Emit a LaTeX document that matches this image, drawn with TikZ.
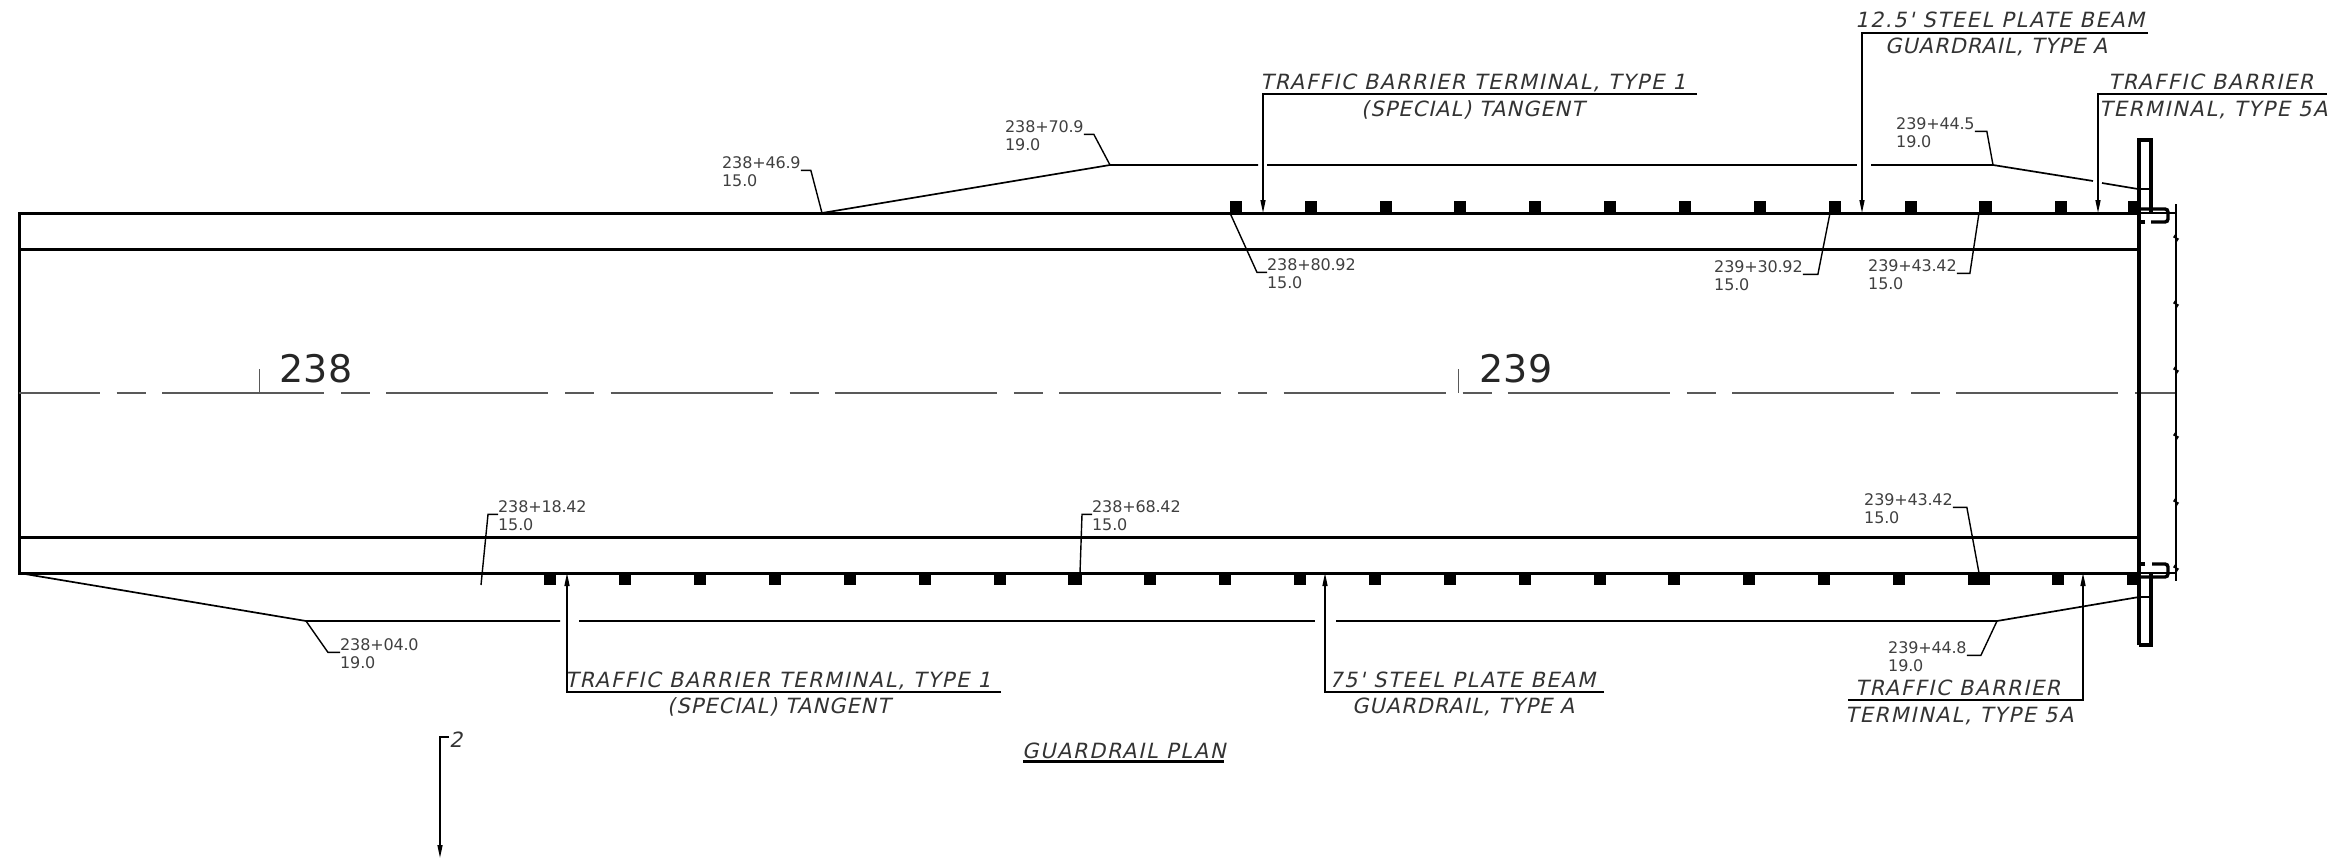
\documentclass[tikz,border=0pt]{standalone}
\usepackage{fontspec}
\setmainfont{DejaVu Sans}
\newfontfamily\notefont[FakeSlant=0.22,LetterSpace=7.5]{DejaVu Sans}
\newfontfamily\tightfont[FakeSlant=0.22,LetterSpace=4.5]{DejaVu Sans}
\newfontfamily\stafont[LetterSpace=-1]{DejaVu Sans}
\newfontfamily\stnfont[LetterSpace=1.5]{DejaVu Sans}
\usetikzlibrary{arrows.meta}

\begin{document}
\begin{tikzpicture}[x=1pt,y=-1pt,>={Stealth[length=13pt,width=5pt,inset=0pt]},
    road/.style={line width=3pt}, thin line/.style={line width=1.7pt},
    lead/.style={line width=1.4pt}, term/.style={line width=4.4pt},
    note/.style={anchor=base west,inner sep=0pt,font=\notefont\fontsize{21pt}{21pt}\selectfont,text=black!80},
    tight/.style={note,font=\tightfont\fontsize{21pt}{21pt}\selectfont},
    sta/.style={anchor=base west,inner xsep=0pt,inner ysep=2pt,font=\stafont\fontsize{16pt}{16pt}\selectfont,text=black!75},
    station/.style={anchor=base west,inner sep=0pt,font=\stnfont\fontsize{38pt}{38pt}\selectfont,text=black!85}]
  \useasboundingbox (0,0) rectangle (2351,867);
  % roadway edges
  \draw[road] (2139,213) -- (19,213) -- (19,573) -- (2139,573);
  \draw[road] (19,249) -- (2139,249);
  \draw[road] (19,537) -- (2139,537);
  % centre line and stations
  \draw[line width=1.2pt,black!65,dash pattern=on 162pt off 17pt on 29pt off 16.3pt,dash phase=81.3pt] (19,393) -- (2118,393);
  \draw[line width=1.2pt,black!65] (2135,393) -- (2176,393);
  \draw[line width=1pt,black!65] (259,369) -- (259,393);
  \draw[line width=1pt,black!65] (1458,369) -- (1458,393);
  \node[station] (N238) at (279,382) {238};
  \node[station] (N239) at (1479,382) {239};
  % posts
  \foreach \x in {1236,1311,1386,1460,1535,1610,1685,1760,1835,1911,2061,2134}
    \fill (\x-6,201) rectangle (\x+6,213);
  \fill (1979,201) rectangle (1992,213);
  \foreach \x in {550,625,700,775,850,925,1000,1150,1225,1300,1375,1450,1525,1600,1674,1749,1824,1899,2058,2133}
    \fill (\x-6,573) rectangle (\x+6,585);
  \fill (1068,573) rectangle (1082,585);
  \fill (1968,573) rectangle (1990,585);
  % guardrail offset lines
  \draw[thin line] (822,213) -- (1110,165) -- (1258,165);
  \draw[thin line] (1267,165) -- (1857,165);
  \draw[thin line] (1871,165) -- (1993,165) -- (2093,181);
  \draw[thin line] (2102,183) -- (2138,189);
  \draw[thin line] (19,573) -- (306,621) -- (560,621);
  \draw[thin line] (579,621) -- (1315,621);
  \draw[thin line] (1336,621) -- (1997,621) -- (2139,597);
  % end treatment
  \draw[term] (2139,645) -- (2139,140) -- (2151,140) -- (2151,213);
  \draw[term] (2139,645) -- (2151,645) -- (2151,573);
  \draw[line width=2.6pt] (2139,189) -- (2151,189);
  \draw[line width=2.6pt] (2139,597) -- (2151,597);
  \draw[line width=3.4pt,rounded corners=3pt] (2139,209) -- (2168,209) -- (2168,222) -- (2151,222);
  \draw[line width=3.4pt] (2145,222) -- (2139,222);
  \draw[line width=3.4pt,rounded corners=3pt] (2152,564) -- (2168,564) -- (2168,577) -- (2139,577);
  \draw[line width=3.4pt] (2145,564) -- (2139,564);
  \draw[thin line] (2139,213) -- (2176,213);
  \draw[thin line] (2139,573) -- (2176,573);
  \draw[thin line] (2176,204) -- (2176,581);
  \foreach \y in {238,304,370,436,502,568}
    \draw[lead] (2176,\y-4) -- (2174,\y-1) -- (2178,\y+1) -- (2176,\y+4);
  % station labels with leaders
  \foreach \nm/\x/\y/\ta/\tb in {a/722/168/238+46.9/15.0, b/1005/132/238+70.9/19.0,
      c/1896/129/239+44.5/19.0, d/1267/270/238+80.92/15.0, e/1714/272/239+30.92/15.0,
      f/1868/271/239+43.42/15.0, g/498/512/238+18.42/15.0, h/1092/512/238+68.42/15.0,
      i/1864/505/239+43.42/15.0, j/340/650/238+04.0/19.0, k/1888/653/239+44.8/19.0} {
    \node[sta] (\nm) at (\x,\y) {\ta};
    \node[sta] (\nm2) at (\x,\y+18) {\tb};
  }
  \coordinate (ta) at (822,213);
  \coordinate (tb) at (1110,165);
  \coordinate (tc) at (1993,165);
  \coordinate (td) at (1230,213);
  \coordinate (te) at (1830,213);
  \coordinate (tf) at (1979,213);
  \coordinate (tg) at (481,585);
  \coordinate (th) at (1080,573);
  \coordinate (ti) at (1979,573);
  \coordinate (tj) at (306,621);
  \coordinate (tk) at (1997,621);
  \draw[lead] (a.south east) -- ++(10,0) -- (ta);
  \draw[lead] (b.south east) -- ++(10,0) -- (tb);
  \draw[lead] (c.south east) -- ++(12,0) -- (tc);
  \draw[lead] (d.south west) -- ++(-10,0) -- (td);
  \draw[lead] (e.south east) -- ++(15,0) -- (te);
  \draw[lead] (f.south east) -- ++(13,0) -- (tf);
  \draw[lead] (g.south west) -- ++(-10,0) -- (tg);
  \draw[lead] (h.south west) -- ++(-10,0) -- (th);
  \draw[lead] (i.south east) -- ++(14,0) -- (ti);
  \draw[lead] (j.south west) -- ++(-12,0) -- (tj);
  \draw[lead] (k.south east) -- ++(14,0) -- (tk);
  % callouts
  \node[note] (n1) at (1855,28) {12.5' STEEL PLATE BEAM};
  \node[tight] (n1b) at (1885,54) {GUARDRAIL, TYPE A};
  \coordinate (u1) at (2148,33);
  \coordinate (v1) at (1862,213);
  \draw[lead,->] (u1) -| (v1);
  \node[note] (n2) at (2108,89) {TRAFFIC BARRIER};
  \node[note] (n2b) at (2099,116) {TERMINAL, TYPE 5A};
  \coordinate (u2) at (2327,94);
  \coordinate (v2) at (2098,213);
  \draw[lead,->] (u2) -| (v2);
  \node[note] (n3) at (1260,89) {TRAFFIC BARRIER TERMINAL, TYPE 1};
  \node[tight] (n3b) at (1361,116) {(SPECIAL) TANGENT};
  \coordinate (u3) at (1697,94);
  \coordinate (v3) at (1263,213);
  \draw[lead,->] (u3) -| (v3);
  \node[note] (n4) at (565,687) {TRAFFIC BARRIER TERMINAL, TYPE 1};
  \node[tight] (n4b) at (667,713) {(SPECIAL) TANGENT};
  \coordinate (u4) at (1001,692);
  \coordinate (v4) at (567,573);
  \draw[lead,->] (u4) -| (v4);
  \node[note] (n5) at (1329,687) {75' STEEL PLATE BEAM};
  \node[tight] (n5b) at (1352,713) {GUARDRAIL, TYPE A};
  \coordinate (u5) at (1604,692);
  \coordinate (v5) at (1325,573);
  \draw[lead,->] (u5) -| (v5);
  \node[note] (n6) at (1855,695) {TRAFFIC BARRIER};
  \node[note] (n6b) at (1845,722) {TERMINAL, TYPE 5A};
  \coordinate (u6) at (1848,700);
  \coordinate (v6) at (2083,573);
  \draw[lead,->] (u6) -| (v6);
  \node[note] (plan) at (1022,758) {GUARDRAIL PLAN};
  \draw[road] (plan.south west) ++(1,3) -- ++(201,0);
  % section mark
  \node[note] (sec) at (449,747) {2};
  \coordinate (s1) at (449,737);
  \coordinate (s2) at (440,858);
  \draw[lead,->] (s1) -| (s2);
\end{tikzpicture}
\end{document}
